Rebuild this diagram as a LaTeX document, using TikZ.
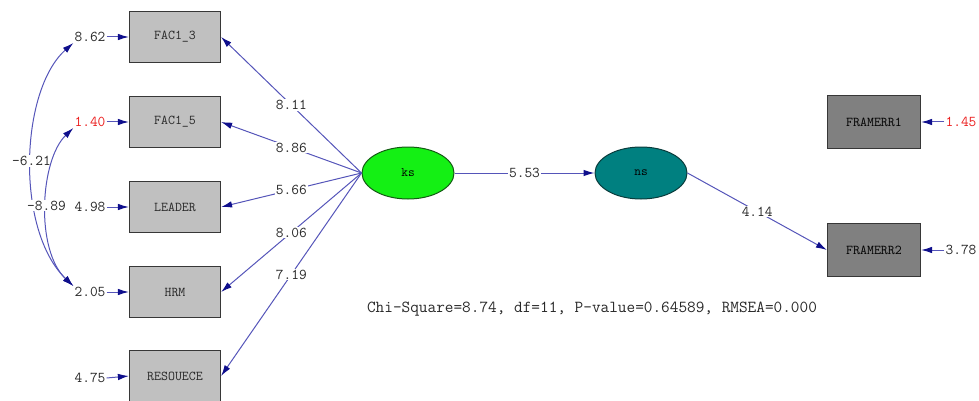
\documentclass[tikz,border=0pt]{standalone}
\usepackage{fontspec}
\usetikzlibrary{shapes.geometric,arrows.meta}
\definecolor{boxfill}{RGB}{192,192,192}
\definecolor{darkbox}{RGB}{128,128,128}
\definecolor{edgegrey}{RGB}{55,55,55}
\definecolor{pathblue}{RGB}{85,85,185}
\definecolor{tipblue}{RGB}{15,15,140}
\definecolor{ksgreen}{RGB}{20,240,20}
\definecolor{ksedge}{RGB}{20,90,20}
\definecolor{nsteal}{RGB}{0,128,128}
\definecolor{nsedge}{RGB}{10,60,60}
\definecolor{numred}{RGB}{235,30,30}
\definecolor{txtgrey}{RGB}{40,40,40}
\begin{document}
\begin{tikzpicture}[x=1pt,y=-1pt,
  obs/.style={draw=edgegrey,line width=1.2pt,fill=boxfill,minimum width=91pt,minimum height=51pt,inner sep=0pt,text=txtgrey,font=\ttfamily\fontsize{13.5}{15}\selectfont},
  obsdark/.style={obs,fill=darkbox,minimum width=93pt,minimum height=53pt,text=black},
  lat/.style={ellipse,draw,line width=1pt,minimum width=92pt,minimum height=52pt,inner sep=0pt,font=\ttfamily\fontsize{13}{15}\selectfont},
  errlab/.style={inner sep=1pt,text=txtgrey,font=\ttfamily\fontsize{15}{16}\selectfont},
  pathlab/.style={fill=white,inner sep=1pt,text=txtgrey,font=\ttfamily\fontsize{15}{16}\selectfont},
  arr/.style={draw=pathblue,line width=1pt,-{Latex[length=11pt,width=6.5pt,color=tipblue]}},
  cov/.style={draw=pathblue,line width=1pt,{Latex[length=11pt,width=6.5pt,color=tipblue]}-{Latex[length=11pt,width=6.5pt,color=tipblue]}}
]
\useasboundingbox (0,0) rectangle (979,401);

% observed variables (left)
\node[obs] (f1) at (175,37) {FAC1\_3};
\node[obs] (f2) at (175,122) {FAC1\_5};
\node[obs] (f3) at (175,207) {LEADER};
\node[obs] (f4) at (175,292) {HRM};
\node[obs] (f5) at (175,376) {RESOUECE};

% error variances (left)
\node[errlab] (e1) at (90,37) {8.62};
\node[errlab,text=numred] (e2) at (90,122) {1.40};
\node[errlab] (e3) at (90,207) {4.98};
\node[errlab] (e4) at (90,292) {2.05};
\node[errlab] (e5) at (90,378) {4.75};

\draw[arr] (e1.east) -- (f1.west);
\draw[arr] (e2.east) -- (f2.west);
\draw[arr] (e3.east) -- (f3.west);
\draw[arr] (e4.east) -- (f4.west);
\draw[arr] (e5.east) -- (f5.west);

% latent variables
\node[lat,fill=ksgreen,draw=ksedge] (ks) at (408,173) {ks};
\node[lat,fill=nsteal,draw=nsedge] (ns) at (641,173) {ns};

% observed variables (right)
\node[obsdark] (r1) at (874,122) {FRAMERR1};
\node[obsdark] (r2) at (874,250) {FRAMERR2};
\node[errlab,text=numred] (v1) at (961,122) {1.45};
\node[errlab] (v2) at (961,250) {3.78};
\draw[arr] (v1.west) -- (r1.east);
\draw[arr] (v2.west) -- (r2.east);

% loadings
\draw[arr] (ks.west) -- node[pathlab]{8.11} (f1.east);
\draw[arr] (ks.west) -- node[pathlab]{8.86} (f2.east);
\draw[arr] (ks.west) -- node[pathlab]{5.66} (f3.east);
\draw[arr] (ks.west) -- node[pathlab]{8.06} (f4.east);
\draw[arr] (ks.west) -- node[pathlab]{7.19} (f5.east);

% structural paths
\draw[arr] (ks.east) -- node[pathlab]{5.53} (ns.west);
\draw[arr] (ns.east) -- node[pathlab]{4.14} (r2.west);

% error covariances
\draw[cov] (e1.south west) .. controls (20,90) and (15,230) .. node[pathlab,pos=0.5]{-6.21} (e4.north west);
\draw[cov] (e2.south west) .. controls (40,160) and (35,250) .. node[pathlab,pos=0.5]{-8.89} (e4.north west);

% fit statistics
\node[inner sep=0pt,text=txtgrey,font=\ttfamily\fontsize{16.8}{18}\selectfont] (fit) at (592,309) {Chi-Square=8.74, df=11, P-value=0.64589, RMSEA=0.000};
\end{tikzpicture}
\end{document}
